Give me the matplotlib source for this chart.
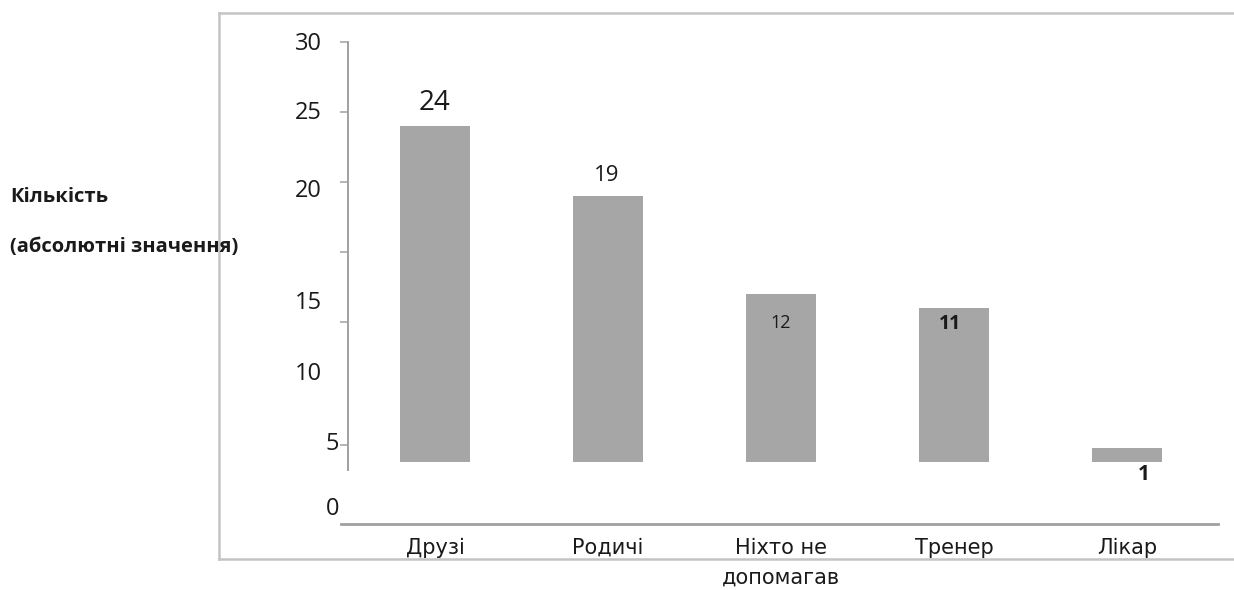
import matplotlib
matplotlib.use("Agg")
import matplotlib.pyplot as plt
from matplotlib.lines import Line2D

categories = ['Друзі', 'Родичі', 'Ніхто не\nдопомагав', 'Тренер', 'Лікар']
values = [24, 19, 12, 11, 1]
ytick_vals = [30, 25, 20, 15, 10, 1.2]
ylabel_texts = ['30', '25', '20', '15', '10', '5', '0']
ylabel_pos = [29.86, 24.9, 19.36, 11.36, 6.3, 1.3, -3.36]

W, H = 1234, 590
fig = plt.figure(figsize=(W / 100, H / 100), dpi=100)
ax = fig.add_axes([341 / W, (H - 524) / H, (1218 - 341) / W, (524 - 42) / H])

bar_color = '#a6a6a6'
axis_color = '#a0a0a0'
txt = '#1a1a1a'

x = list(range(len(categories)))
ax.bar(x, values, width=0.4, color=bar_color)

ax.set_xlim(-0.543, 4.526)
ax.set_ylim(-4.43, 30)

for s in ['top', 'right']:
    ax.spines[s].set_visible(False)
ax.spines['left'].set_position(('data', -0.5))
ax.spines['left'].set_bounds(-0.57, 30)
ax.spines['left'].set_color(axis_color)
ax.spines['left'].set_linewidth(1.4)
ax.spines['bottom'].set_color(axis_color)
ax.spines['bottom'].set_linewidth(2)

ax.set_yticks(ytick_vals)
ax.set_yticklabels([])
ax.tick_params(axis='y', length=6, width=1.1, color=axis_color)

# y labels sit off their ticks in the original
ytr = ax.get_yaxis_transform()
for i, (t, p) in enumerate(zip(ylabel_texts, ylabel_pos)):
    xr = -0.0023 if i >= 5 else -0.0217
    ax.text(xr, p, t, transform=ytr, ha='right', va='center',
            fontsize=17, family='Open Sans', color=txt)

ax.set_xticks(x)
ax.set_xticklabels(categories, fontsize=15, family='DejaVu Sans', color=txt,
                   linespacing=1.6, va='top')
ax.tick_params(axis='x', length=0, pad=10)

# value labels, each placed by hand like the source
lab_dx = [0, -1, 0, -4, 17]
lab_dy = [23, 20, -29, -16, -26.5]
lab_fs = [20, 16, 13, 14, 15]
lab_fw = ['normal', 'normal', 'normal', 'bold', 'bold']
for xi, v, dx, dy, fs, fw in zip(x, values, lab_dx, lab_dy, lab_fs, lab_fw):
    ax.annotate(str(v), (xi, v), xytext=(dx * 0.72, dy * 0.72),
                textcoords='offset points', ha='center', va='center',
                fontsize=fs, fontweight=fw, family='Open Sans', color=txt)

fig.text(10 / W, 1 - 197 / H, 'Кількість', ha='left', va='center',
         fontsize=14.5, fontweight='bold', family='Open Sans', color=txt)
fig.text(10 / W, 1 - 247 / H, '(абсолютні значення)', ha='left', va='center',
         fontsize=14.5, fontweight='bold', family='Open Sans', color=txt)

frame_c = '#c4c4c4'
fl = 1.8
fig.add_artist(Line2D([219 / W, 219 / W], [1 - 13 / H, 1 - 559 / H], color=frame_c, lw=fl))
fig.add_artist(Line2D([219 / W, 1], [1 - 13 / H, 1 - 13 / H], color=frame_c, lw=fl))
fig.add_artist(Line2D([219 / W, 1], [1 - 559 / H, 1 - 559 / H], color=frame_c, lw=fl))

fig.savefig('out.png', dpi=100)
